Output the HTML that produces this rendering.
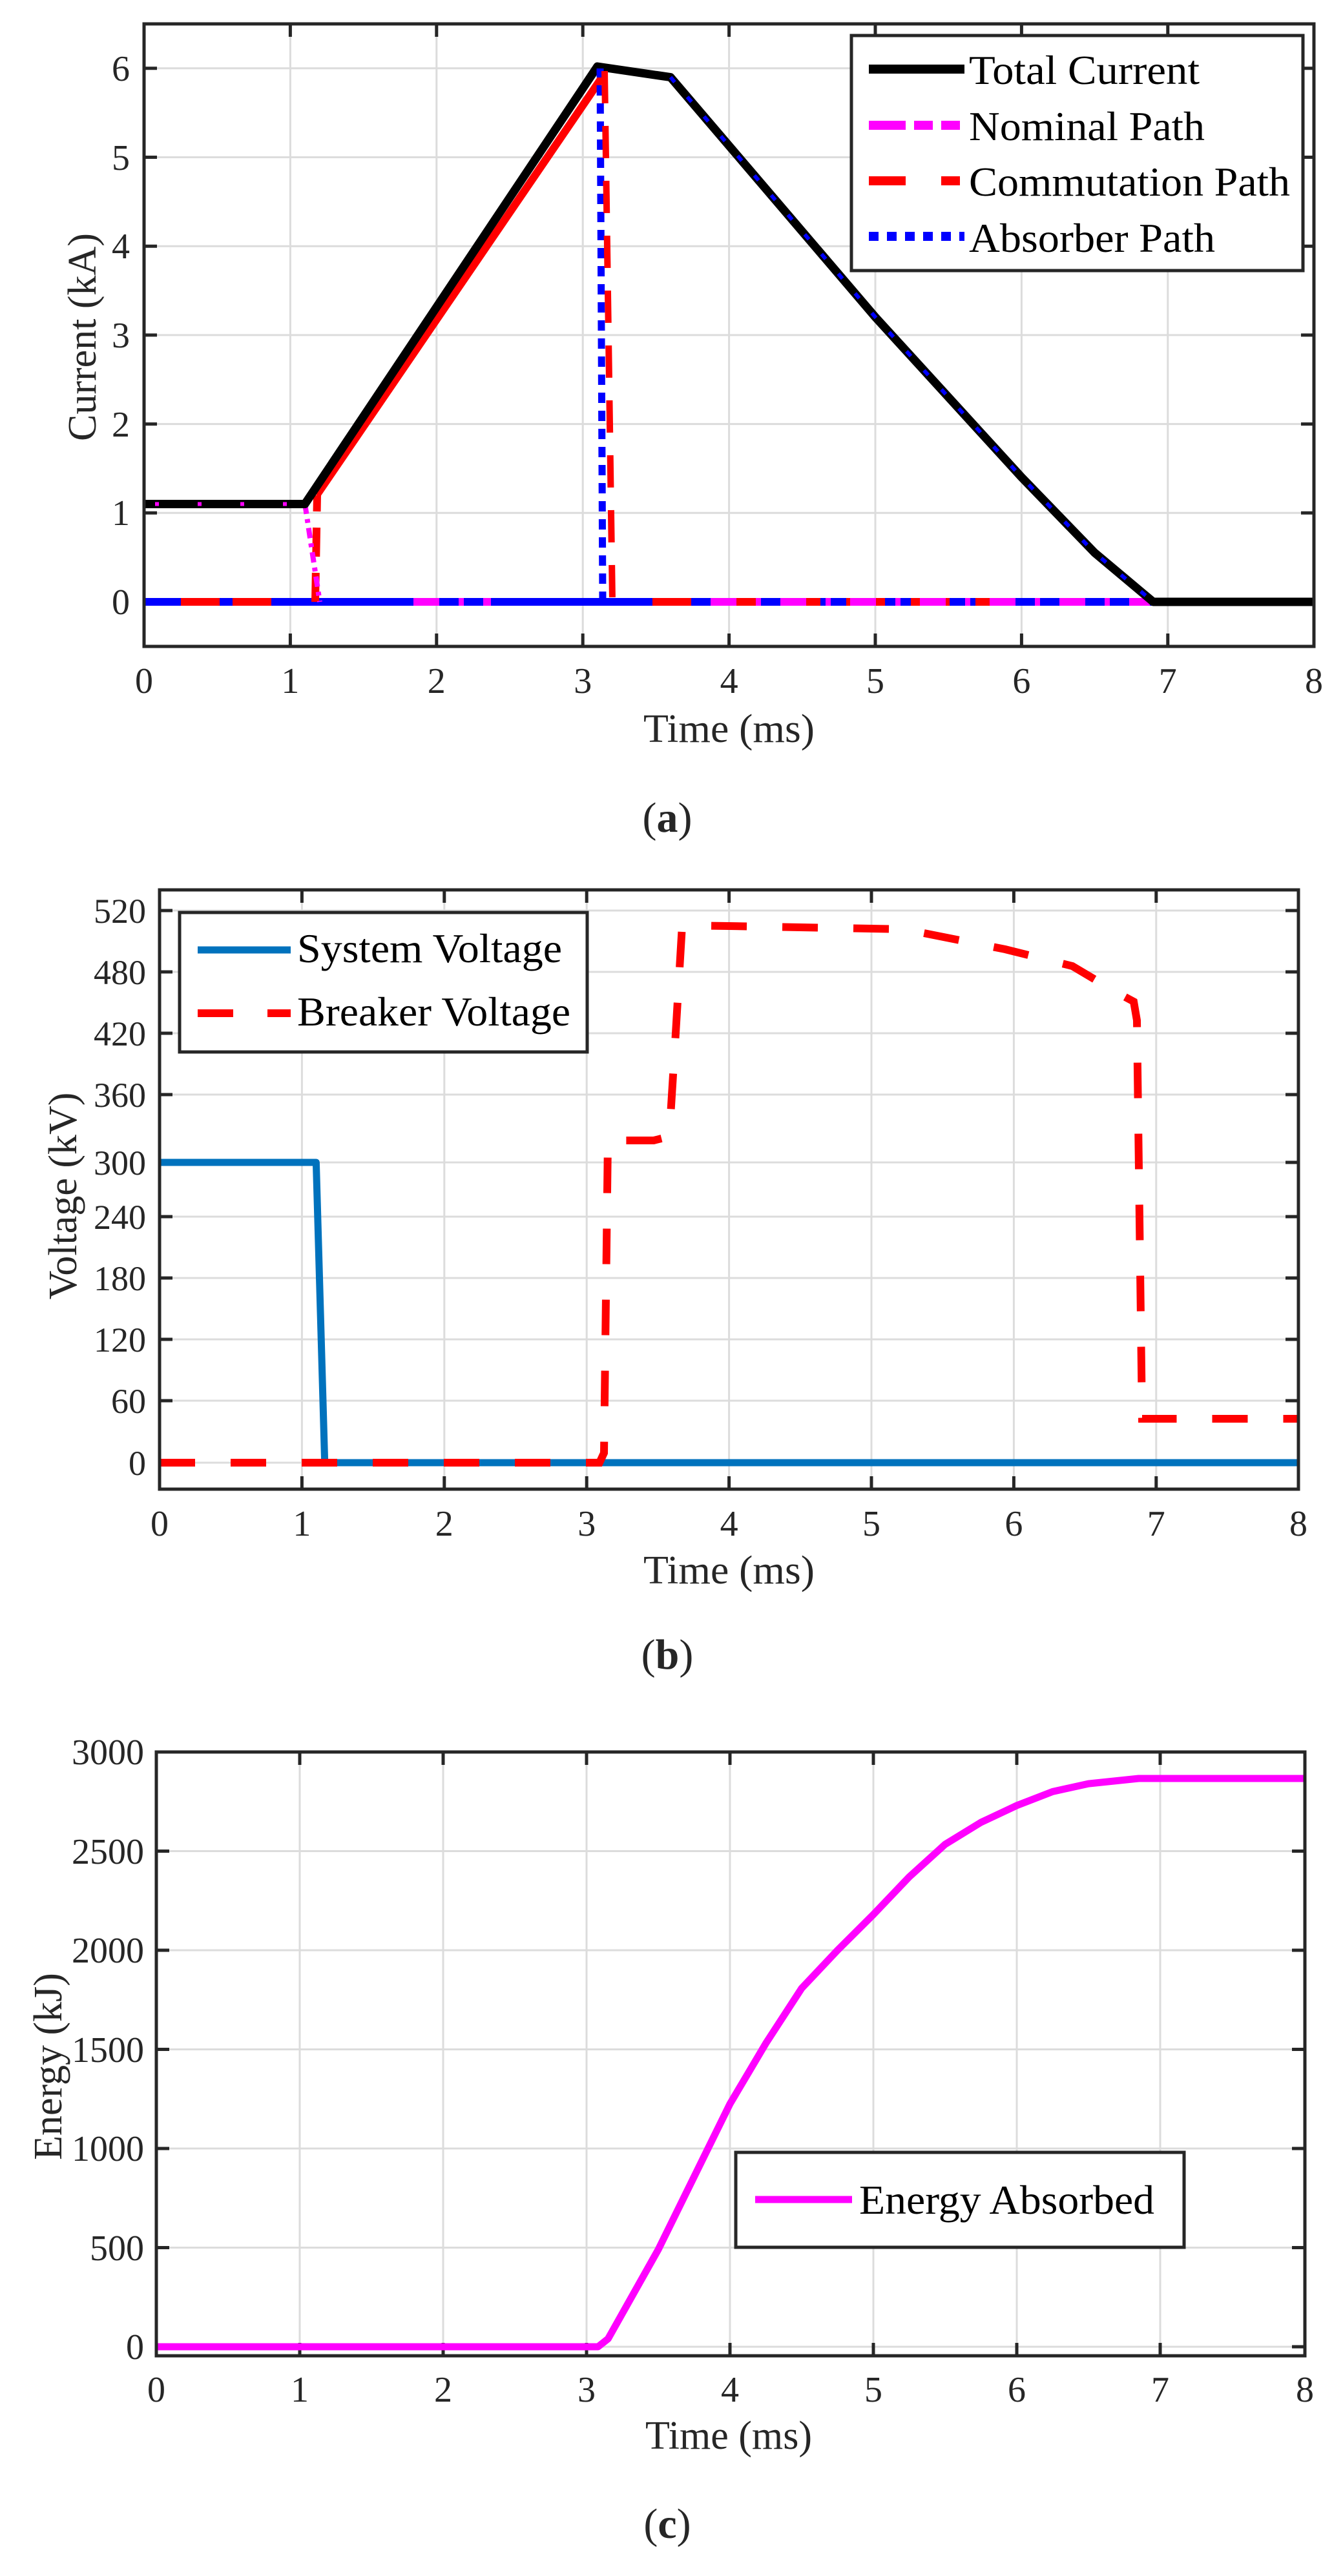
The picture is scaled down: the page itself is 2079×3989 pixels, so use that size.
<!DOCTYPE html>
<html><head><meta charset="utf-8"><style>
html,body{margin:0;padding:0;background:#fff;}
svg{display:block;}
text{font-family:"Liberation Serif",serif;fill:#262626;}
</style></head><body>
<svg width="2079" height="3989" viewBox="0 0 2079 3989" xmlns="http://www.w3.org/2000/svg">
<rect width="2079" height="3989" fill="#fff"/>

<!-- ============ PLOT A ============ -->
<g stroke="#dcdcdc" stroke-width="3">
<line x1="449.4" y1="37" x2="449.4" y2="1001"/><line x1="675.8" y1="37" x2="675.8" y2="1001"/>
<line x1="902.2" y1="37" x2="902.2" y2="1001"/><line x1="1128.6" y1="37" x2="1128.6" y2="1001"/>
<line x1="1355" y1="37" x2="1355" y2="1001"/><line x1="1581.4" y1="37" x2="1581.4" y2="1001"/>
<line x1="1807.8" y1="37" x2="1807.8" y2="1001"/>
<line x1="223" y1="932" x2="2034" y2="932"/><line x1="223" y1="794.3" x2="2034" y2="794.3"/>
<line x1="223" y1="656.6" x2="2034" y2="656.6"/><line x1="223" y1="518.9" x2="2034" y2="518.9"/>
<line x1="223" y1="381.2" x2="2034" y2="381.2"/><line x1="223" y1="243.5" x2="2034" y2="243.5"/>
<line x1="223" y1="105.8" x2="2034" y2="105.8"/>
</g>
<g stroke="#262626" stroke-width="5">
<path d="M449.4 1001v-20M675.8 1001v-20M902.2 1001v-20M1128.6 1001v-20M1355 1001v-20M1581.4 1001v-20M1807.8 1001v-20
M449.4 37v20M675.8 37v20M902.2 37v20M1128.6 37v20M1355 37v20M1581.4 37v20M1807.8 37v20
M223 932h20M223 794.3h20M223 656.6h20M223 518.9h20M223 381.2h20M223 243.5h20M223 105.8h20
M2034 932h-20M2034 794.3h-20M2034 656.6h-20M2034 518.9h-20M2034 381.2h-20M2034 243.5h-20M2034 105.8h-20"/>
</g>
<line x1="223" y1="932" x2="2034" y2="932" stroke="#0000ff" stroke-width="12"/>
<path d="M280 932H340M360 932H420M1010 932H1600" stroke="#ff0000" stroke-width="12" stroke-dasharray="60 40"/>
<path d="M640 932H760M1100 932H1780" stroke="#ff00ff" stroke-width="12" stroke-dasharray="40 30 8 30"/>
<polyline points="490.2,766.8 933.9,116.8" fill="none" stroke="#ff0000" stroke-width="12"/>
<polyline points="488,932 491,767" fill="none" stroke="#ff0000" stroke-width="12" stroke-dasharray="45 25"/>
<polyline points="472,780 495,932" fill="none" stroke="#ff00ff" stroke-width="8" stroke-dasharray="16 8 6 8"/>
<polyline points="223,780.5 472,780.5 924.8,103 1038,119.6 1355,491 1581.4,739 1694.6,856 1785.2,932 2034,932" fill="none" stroke="#000" stroke-width="13" stroke-linejoin="round"/>
<polyline points="240,780.5 470,780.5" fill="none" stroke="#ff00ff" stroke-width="6" stroke-dasharray="6 60"/>
<polyline points="1038,119.6 1355,491 1581.4,739 1694.6,856 1785.2,932" fill="none" stroke="#0000ff" stroke-width="6" stroke-dasharray="10 30"/>
<polyline points="933,932 929,106" fill="none" stroke="#0000ff" stroke-width="11" stroke-dasharray="16 12"/>
<polyline points="936,110 948,932" fill="none" stroke="#ff0000" stroke-width="10" stroke-dasharray="50 35"/>
<rect x="223" y="37" width="1811" height="964" fill="none" stroke="#262626" stroke-width="5"/>
<!-- legend a -->
<rect x="1318" y="55" width="699" height="364" fill="#fff" stroke="#262626" stroke-width="5"/>
<line x1="1345" y1="107" x2="1493" y2="107" stroke="#000" stroke-width="14"/>
<line x1="1345" y1="194" x2="1493" y2="194" stroke="#ff00ff" stroke-width="14" stroke-dasharray="57 13 29 13 29 20"/>
<line x1="1345" y1="280" x2="1493" y2="280" stroke="#ff0000" stroke-width="14" stroke-dasharray="57 55 29 20"/>
<line x1="1345" y1="366" x2="1493" y2="366" stroke="#0000ff" stroke-width="14" stroke-dasharray="15 13"/>
<g font-size="64">
<text x="1500" y="130" textLength="357" lengthAdjust="spacingAndGlyphs" style="fill:#000">Total Current</text>
<text x="1500" y="217" textLength="365" lengthAdjust="spacingAndGlyphs" style="fill:#000">Nominal Path</text>
<text x="1500" y="303" textLength="497" lengthAdjust="spacingAndGlyphs" style="fill:#000">Commutation Path</text>
<text x="1500" y="390" textLength="381" lengthAdjust="spacingAndGlyphs" style="fill:#000">Absorber Path</text>
</g>
<g font-size="56" text-anchor="end">
<text x="201" y="951">0</text><text x="201" y="813">1</text><text x="201" y="676">2</text>
<text x="201" y="538">3</text><text x="201" y="400">4</text><text x="201" y="263">5</text><text x="201" y="125">6</text>
</g>
<g font-size="56" text-anchor="middle">
<text x="223" y="1073">0</text><text x="449.4" y="1073">1</text><text x="675.8" y="1073">2</text>
<text x="902.2" y="1073">3</text><text x="1128.6" y="1073">4</text><text x="1355" y="1073">5</text>
<text x="1581.4" y="1073">6</text><text x="1807.8" y="1073">7</text><text x="2034" y="1073">8</text>
</g>
<text x="996" y="1149" font-size="62" textLength="265" lengthAdjust="spacingAndGlyphs">Time (ms)</text>
<text x="1033" y="1288" font-size="66" text-anchor="middle">(<tspan font-weight="bold">a</tspan>)</text>
<text transform="translate(148,522) rotate(-90)" font-size="62" text-anchor="middle">Current (kA)</text>

<!-- ============ PLOT B ============ -->
<g stroke="#dcdcdc" stroke-width="3">
<line x1="467.4" y1="1378" x2="467.4" y2="2306"/><line x1="687.8" y1="1378" x2="687.8" y2="2306"/>
<line x1="908.2" y1="1378" x2="908.2" y2="2306"/><line x1="1128.6" y1="1378" x2="1128.6" y2="2306"/>
<line x1="1349" y1="1378" x2="1349" y2="2306"/><line x1="1569.4" y1="1378" x2="1569.4" y2="2306"/>
<line x1="1789.8" y1="1378" x2="1789.8" y2="2306"/>
<line x1="247" y1="1410" x2="2010" y2="1410"/><line x1="247" y1="1505" x2="2010" y2="1505"/>
<line x1="247" y1="1600" x2="2010" y2="1600"/><line x1="247" y1="1695" x2="2010" y2="1695"/>
<line x1="247" y1="1800" x2="2010" y2="1800"/><line x1="247" y1="1884" x2="2010" y2="1884"/>
<line x1="247" y1="1979" x2="2010" y2="1979"/><line x1="247" y1="2074" x2="2010" y2="2074"/>
<line x1="247" y1="2169" x2="2010" y2="2169"/><line x1="247" y1="2265" x2="2010" y2="2265"/>
</g>
<g stroke="#262626" stroke-width="5">
<path d="M467.4 2306v-20M687.8 2306v-20M908.2 2306v-20M1128.6 2306v-20M1349 2306v-20M1569.4 2306v-20M1789.8 2306v-20
M467.4 1378v20M687.8 1378v20M908.2 1378v20M1128.6 1378v20M1349 1378v20M1569.4 1378v20M1789.8 1378v20
M247 1410h20M247 1505h20M247 1600h20M247 1695h20M247 1800h20M247 1884h20M247 1979h20M247 2074h20M247 2169h20M247 2265h20
M2010 1410h-20M2010 1505h-20M2010 1600h-20M2010 1695h-20M2010 1800h-20M2010 1884h-20M2010 1979h-20M2010 2074h-20M2010 2169h-20M2010 2265h-20"/>
</g>
<polyline points="247,1800 489.4,1800 502.7,2265 2010,2265" fill="none" stroke="#0072bd" stroke-width="11" stroke-linejoin="round"/>
<polyline points="247,2265 928,2265 935,2250 941,1766 1012,1766 1036,1760 1046,1600 1056,1433 1128.6,1434 1400,1439 1556,1470 1660,1496 1729,1537 1755,1551 1760,1580 1768,2197 2010,2197" fill="none" stroke="#ff0000" stroke-width="12" stroke-dasharray="55 55"/>
<rect x="247" y="1378" width="1763" height="928" fill="none" stroke="#262626" stroke-width="5"/>
<rect x="278" y="1413" width="631" height="216" fill="#fff" stroke="#262626" stroke-width="5"/>
<line x1="306" y1="1471" x2="450" y2="1471" stroke="#0072bd" stroke-width="11"/>
<line x1="306" y1="1569" x2="450" y2="1569" stroke="#ff0000" stroke-width="12" stroke-dasharray="55 53"/>
<text x="460" y="1490" font-size="64" textLength="410" lengthAdjust="spacingAndGlyphs" style="fill:#000">System Voltage</text>
<text x="460" y="1588" font-size="64" textLength="423" lengthAdjust="spacingAndGlyphs" style="fill:#000">Breaker Voltage</text>
<g font-size="54" text-anchor="end">
<text x="226" y="1429">520</text><text x="226" y="1524">480</text><text x="226" y="1619">420</text>
<text x="226" y="1714">360</text><text x="226" y="1819">300</text><text x="226" y="1903">240</text>
<text x="226" y="1998">180</text><text x="226" y="2093">120</text><text x="226" y="2188">60</text><text x="226" y="2284">0</text>
</g>
<g font-size="56" text-anchor="middle">
<text x="247" y="2378">0</text><text x="467.4" y="2378">1</text><text x="687.8" y="2378">2</text>
<text x="908.2" y="2378">3</text><text x="1128.6" y="2378">4</text><text x="1349" y="2378">5</text>
<text x="1569.4" y="2378">6</text><text x="1789.8" y="2378">7</text><text x="2010" y="2378">8</text>
</g>
<text x="996" y="2452" font-size="62" textLength="265" lengthAdjust="spacingAndGlyphs">Time (ms)</text>
<text x="1033" y="2584" font-size="66" text-anchor="middle">(<tspan font-weight="bold">b</tspan>)</text>
<text transform="translate(118,1852) rotate(-90)" font-size="62" text-anchor="middle">Voltage (kV)</text>

<!-- ============ PLOT C ============ -->
<g stroke="#dcdcdc" stroke-width="3">
<line x1="464" y1="2713" x2="464" y2="3648"/><line x1="686" y1="2713" x2="686" y2="3648"/>
<line x1="908" y1="2713" x2="908" y2="3648"/><line x1="1130" y1="2713" x2="1130" y2="3648"/>
<line x1="1352" y1="2713" x2="1352" y2="3648"/><line x1="1574" y1="2713" x2="1574" y2="3648"/>
<line x1="1796" y1="2713" x2="1796" y2="3648"/>
<line x1="242" y1="3634" x2="2020" y2="3634"/><line x1="242" y1="3480.5" x2="2020" y2="3480.5"/>
<line x1="242" y1="3327" x2="2020" y2="3327"/><line x1="242" y1="3173.5" x2="2020" y2="3173.5"/>
<line x1="242" y1="3020" x2="2020" y2="3020"/><line x1="242" y1="2866.5" x2="2020" y2="2866.5"/>
</g>
<g stroke="#262626" stroke-width="5">
<path d="M464 3648v-20M686 3648v-20M908 3648v-20M1130 3648v-20M1352 3648v-20M1574 3648v-20M1796 3648v-20
M464 2713v20M686 2713v20M908 2713v20M1130 2713v20M1352 2713v20M1574 2713v20M1796 2713v20
M242 3634h20M242 3480.5h20M242 3327h20M242 3173.5h20M242 3020h20M242 2866.5h20
M2020 3634h-20M2020 3480.5h-20M2020 3327h-20M2020 3173.5h-20M2020 3020h-20M2020 2866.5h-20"/>
</g>
<polyline points="242,3634 925.8,3634 941.3,3621.7 1019,3483.6 1130,3257.9 1185.5,3164.3 1241,3078.9 1296.5,3020 1352,2964.7 1407.5,2906.4 1463,2856.1 1518.5,2822 1574,2795.9 1629.5,2774.4 1685,2762.1 1762.7,2754 2020,2754" fill="none" stroke="#ff00ff" stroke-width="11" stroke-linejoin="round"/>
<rect x="242" y="2713" width="1778" height="935" fill="none" stroke="#262626" stroke-width="5"/>
<rect x="1139" y="3333" width="694" height="147" fill="#fff" stroke="#262626" stroke-width="5"/>
<line x1="1169" y1="3406" x2="1319" y2="3406" stroke="#ff00ff" stroke-width="11"/>
<text x="1330" y="3428" font-size="64" textLength="457" lengthAdjust="spacingAndGlyphs" style="fill:#000">Energy Absorbed</text>
<g font-size="56" text-anchor="end">
<text x="223" y="3653">0</text><text x="223" y="3500">500</text><text x="223" y="3346">1000</text>
<text x="223" y="3193">1500</text><text x="223" y="3039">2000</text><text x="223" y="2886">2500</text><text x="223" y="2732">3000</text>
</g>
<g font-size="56" text-anchor="middle">
<text x="242" y="3719">0</text><text x="464" y="3719">1</text><text x="686" y="3719">2</text>
<text x="908" y="3719">3</text><text x="1130" y="3719">4</text><text x="1352" y="3719">5</text>
<text x="1574" y="3719">6</text><text x="1796" y="3719">7</text><text x="2020" y="3719">8</text>
</g>
<text x="999" y="3792" font-size="62" textLength="258" lengthAdjust="spacingAndGlyphs">Time (ms)</text>
<text x="1033" y="3930" font-size="66" text-anchor="middle">(<tspan font-weight="bold">c</tspan>)</text>
<text transform="translate(95,3200) rotate(-90)" font-size="62" text-anchor="middle">Energy (kJ)</text>
</svg>
</body></html>
